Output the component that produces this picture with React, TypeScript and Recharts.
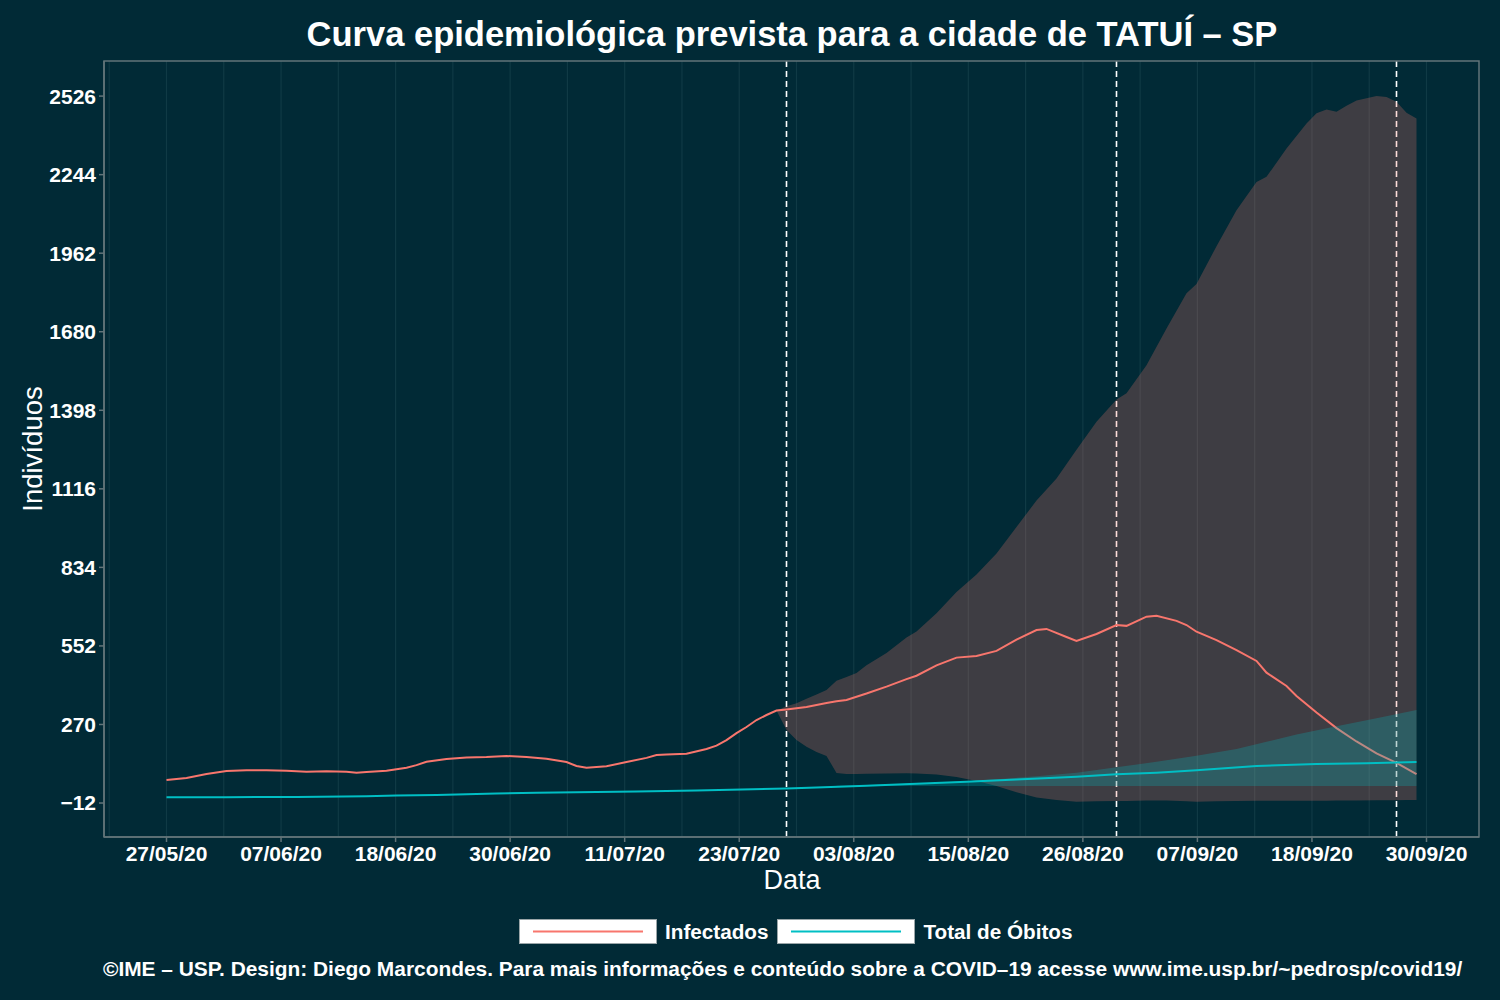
import React from "react"
import {
  ComposedChart,
  Area,
  Line,
  XAxis,
  YAxis,
  CartesianGrid,
  ReferenceLine,
  ReferenceArea,
} from "recharts"

// days are counted from 27/05/20
const xTickLabels = [
  "27/05/20", "07/06/20", "18/06/20", "30/06/20", "11/07/20", "23/07/20",
  "03/08/20", "15/08/20", "26/08/20", "07/09/20", "18/09/20", "30/09/20",
]
const yTicks = [-12, 270, 552, 834, 1116, 1398, 1680, 1962, 2244, 2526]
const markerDays = [62, 95, 123]

const infDays = [
  0, 2, 4, 6, 8, 10, 12, 14, 16, 18, 19, 20, 22, 24, 25, 26, 28, 30, 32, 34,
  36, 38, 40, 41, 42, 44, 46, 48, 49, 50, 52, 54, 55, 56, 57, 58, 59, 60, 61, 62,
  64, 66, 67, 68, 70, 72, 74, 75, 77, 79, 81, 83, 85, 87, 88, 90, 91, 93, 95, 96,
  98, 99, 101, 102, 103, 105, 107, 109, 110, 112, 113, 115, 117, 119, 121, 123, 125,
]
const infectados = [
  71, 78, 92, 103, 106, 106, 104, 100, 102, 100, 97, 99, 104, 115, 124, 136, 146, 151, 153, 157,
  153, 147, 135, 121, 115, 120, 135, 150, 160, 162, 165, 182, 194, 214, 239, 261, 286, 304, 320, 324,
  333, 347, 353, 358, 381, 406, 433, 445, 482, 510, 516, 534, 575, 609, 613, 584, 570, 595, 627, 624,
  657, 660, 642, 627, 603, 573, 537, 498, 456, 408, 372, 313, 257, 209, 166, 132, 92,
]

const obDays = [0, 6, 13, 20, 23, 27, 33, 37, 47, 53, 62, 65, 70, 75, 80, 85, 91, 95, 99, 103, 109, 115, 120, 125]
const obitos = [9, 9, 10, 12, 15, 17, 22, 25, 29, 33, 40, 44, 50, 57, 64, 72, 82, 91, 97, 106, 121, 128, 131, 135]

const infBandDays = [
  61, 62, 63, 64, 65, 66, 67, 68, 69, 70, 72, 74, 75, 77, 79, 81, 83, 85, 87, 89,
  91, 93, 95, 96, 98, 100, 102, 103, 105, 107, 109, 110, 112, 114, 115, 116, 117, 118, 119, 121,
  122, 123, 124, 125,
]
const infBandHigh = [
  320, 335, 346, 362, 378, 394, 427, 440, 455, 483, 527, 582, 604, 669, 746, 808, 884, 979, 1074, 1153,
  1256, 1357, 1437, 1459, 1560, 1692, 1818, 1851, 1987, 2116, 2218, 2236, 2338, 2428, 2464, 2478, 2470, 2491, 2510, 2526,
  2523, 2506, 2466, 2446,
]
const infBandLow = [
  320, 250, 214, 190, 171, 157, 96, 92, 92, 93, 94, 95, 94, 90, 81, 67, 49, 27, 8, -1,
  -7, -6, -5, -5, -3, -3, -6, -7, -6, -5, -4, -4, -4, -4, -4, -4, -3, -3, -3, -2,
  -2, -2, -1, -1,
]

const obBandDays = [67, 70, 75, 80, 83, 87, 91, 95, 99, 103, 107, 110, 113, 117, 121, 125]
const obBandHigh = [50, 53, 58, 66, 73, 84, 97, 116, 136, 158, 182, 208, 234, 264, 292, 322]
const obBandLow = [49, 49, 49, 49, 49, 49, 49, 49, 49, 49, 49, 49, 49, 49, 49, 49]

const BG = "#012a36"
const RED = "#f8766d"
const TEAL = "#00bfc4"
const FRAME = "#627479"
const FONT = "'Liberation Sans', Arial, Helvetica, sans-serif"

const span = 126
const xTicks = xTickLabels.map((_, i) => (i * span) / 11)
const gridDays = Array.from({ length: 24 }, (_, i) => ((i - 1) * span) / 22)

const infData = infDays.map((day, i) => ({ day, v: infectados[i] }))
const obData = obDays.map((day, i) => ({ day, v: obitos[i] }))
const infBand = infBandDays.map((day, i) => ({ day, range: [infBandLow[i], infBandHigh[i]] }))
const obBand = obBandDays.map((day, i) => ({ day, range: [obBandLow[i], obBandHigh[i]] }))

const fmtY = (v: number) => (v < 0 ? "\u2212" + Math.abs(v) : String(v))
const fmtX = (v: number) => xTickLabels[Math.round((v * 11) / span)] ?? ""

function LegendKey({ color }: { color: string }) {
  return (
    <svg width={138} height={25} style={{ display: "block" }}>
      <rect x={0.5} y={0.5} width={137} height={24} fill="#fff" stroke="#9aa5a8" />
      <line x1={14} x2={124} y1={12.5} y2={12.5} stroke={color} strokeWidth={2} />
    </svg>
  )
}

export default function App() {
  return (
    <div
      style={{
        position: "absolute",
        left: 0,
        top: 0,
        width: 1500,
        height: 1000,
        background: BG,
        fontFamily: FONT,
        color: "#fff",
        overflow: "hidden",
      }}
    >
      <div
        style={{
          position: "absolute",
          left: 92,
          width: 1400,
          top: 13,
          textAlign: "center",
          fontSize: 34.5,
          fontWeight: "bold",
          lineHeight: "42px",
        }}
      >
        Curva epidemiológica prevista para a cidade de TATUÍ – SP
      </div>

      <ComposedChart width={1500} height={1000} margin={{ top: 61, right: 21, bottom: 123, left: 0 }}>
        <CartesianGrid horizontal={false} verticalValues={gridDays} stroke="#103a45" strokeWidth={1.2} />
        <XAxis
          type="number"
          dataKey="day"
          domain={[-6.25, 131.25]}
          ticks={xTicks}
          interval={0}
          allowDataOverflow
          tickFormatter={fmtX}
          height={40}
          tickSize={5}
          tickMargin={4}
          axisLine={{ stroke: FRAME, strokeWidth: 1.5 }}
          tickLine={{ stroke: FRAME, strokeWidth: 1.5 }}
          tick={{ fill: "#fff", fontSize: 21, fontWeight: "bold", fontFamily: FONT }}
        />
        <YAxis
          type="number"
          domain={[-134, 2652]}
          ticks={yTicks}
          interval={0}
          allowDataOverflow
          tickFormatter={fmtY}
          width={104}
          tickSize={5}
          tickMargin={3}
          axisLine={{ stroke: FRAME, strokeWidth: 1.5 }}
          tickLine={{ stroke: FRAME, strokeWidth: 1.5 }}
          tick={{ fill: "#fff", fontSize: 21, fontWeight: "bold", fontFamily: FONT }}
        />
        <ReferenceArea x1={-6.25} x2={131.25} y1={-134} y2={2652} fill="none" stroke={FRAME} strokeWidth={1.5} />
        {markerDays.map((d) => (
          <ReferenceLine key={d} x={d} stroke="#ffffff" strokeWidth={1.6} strokeDasharray="6 4" zIndex={50} />
        ))}
        <Area
          data={infBand}
          dataKey="range"
          type="linear"
          stroke="none"
          fill={RED}
          fillOpacity={0.25}
          zIndex={100}
          isAnimationActive={false}
        />
        <Line
          data={infData}
          dataKey="v"
          type="linear"
          stroke={RED}
          strokeWidth={2}
          dot={false}
          zIndex={150}
          isAnimationActive={false}
        />
        <Area
          data={obBand}
          dataKey="range"
          type="linear"
          stroke="none"
          fill={TEAL}
          fillOpacity={0.25}
          zIndex={200}
          isAnimationActive={false}
        />
        <Line
          data={obData}
          dataKey="v"
          type="linear"
          stroke={TEAL}
          strokeWidth={2}
          dot={false}
          zIndex={400}
          isAnimationActive={false}
        />
      </ComposedChart>

      <div
        style={{
          position: "absolute",
          left: 33,
          top: 449,
          transform: "translate(-50%, -50%) rotate(-90deg)",
          fontSize: 27.5,
          whiteSpace: "nowrap",
        }}
      >
        Indivíduos
      </div>
      <div
        style={{
          position: "absolute",
          left: 792,
          top: 880,
          transform: "translate(-50%, -50%)",
          fontSize: 27,
        }}
      >
        Data
      </div>

      <div
        style={{
          position: "absolute",
          top: 919,
          left: 519,
          display: "flex",
          alignItems: "center",
          fontSize: 20.7,
          fontWeight: "bold",
          height: 25,
        }}
      >
        <LegendKey color={RED} />
        <span style={{ marginLeft: 8, marginRight: 9 }}>Infectados</span>
        <LegendKey color={TEAL} />
        <span style={{ marginLeft: 8 }}>Total de Óbitos</span>
      </div>

      <div
        style={{
          position: "absolute",
          left: 103,
          top: 956,
          fontSize: 20.9,
          fontWeight: "bold",
          whiteSpace: "nowrap",
          lineHeight: "26px",
        }}
      >
        ©IME – USP. Design: Diego Marcondes. Para mais informações e conteúdo sobre a COVID–19 acesse www.ime.usp.br/~pedrosp/covid19/
      </div>
    </div>
  )
}
